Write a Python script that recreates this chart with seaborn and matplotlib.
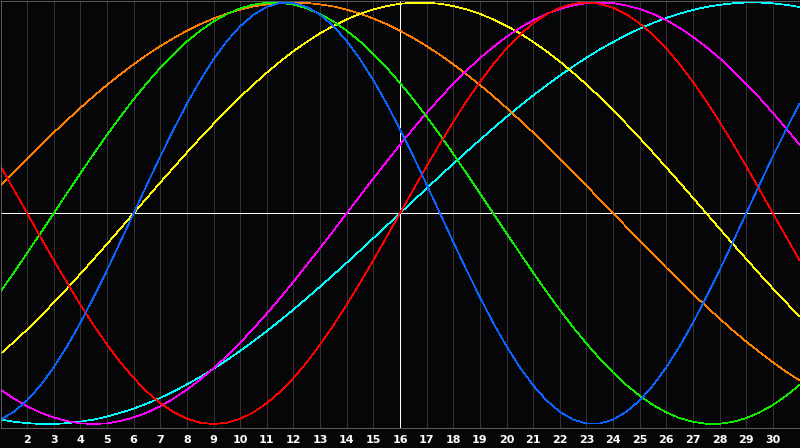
import numpy as np
import pandas as pd
import seaborn as sns
import matplotlib
matplotlib.use("Agg")
import matplotlib.pyplot as plt

# day axis, half-day samples from day 1 to day 31 (today = 16)
days = np.arange(1, 31.5, 0.5)
tick_days = list(range(2, 31))
today = 16

physical = [-.979, -.942, -.888, -.817, -.731, -.631, -.520, -.398, -.270, -.136, .000, .136, .270, .398, .520,
            .631, .731, .817, .888, .942, .979, .998, .998, .979, .942, .888, .817, .731, .631, .520, .398,
            .270, .136, .000, -.136, -.270, -.398, -.520, -.631, -.731, -.817, -.888, -.942, -.979, -.998,
            -.998, -.979, -.942, -.888, -.817, -.731, -.631, -.520, -.398, -.270, -.136, .000, .136, .270,
            .398, .520]
emotional = [.223, .112, -.000, -.112, -.223, -.330, -.434, -.532, -.623, -.707, -.782, -.847, -.901, -.944,
             -.975, -.994, -1.000, -.994, -.975, -.944, -.901, -.847, -.782, -.707, -.623, -.532, -.434,
             -.330, -.223, -.112, .000, .112, .223, .330, .434, .532, .623, .707, .782, .847, .901, .944, .975,
             .994, 1.000, .994, .975, .944, .901, .847, .782, .707, .623, .532, .434, .330, .223, .112, .000,
             -.112, -.223]
intellectual = [-.372, -.282, -.189, -.095, .000, .095, .189, .282, .372, .458, .541, .618, .690, .756, .815,
                .866, .910, .945, .972, .990, .999, .999, .990, .972, .945, .910, .866, .815, .756, .690, .618,
                .541, .458, .372, .282, .189, .095, .000, -.095, -.189, -.282, -.372, -.458, -.541, -.618,
                -.690, -.756, -.815, -.866, -.910, -.945, -.972, -.990, -.999, -.999, -.990, -.972, -.945,
                -.910, -.866, -.815]
intuitive = [-.837, -.879, -.916, -.946, -.969, -.986, -.997, -1.000, -.997, -.986, -.969, -.946, -.916, -.879,
             -.837, -.789, -.736, -.677, -.614, -.547, -.476, -.402, -.325, -.245, -.165, -.083, .000, .083,
             .165, .245, .325, .402, .476, .547, .614, .677, .736, .789, .837, .879, .916, .946, .969, .986,
             .997, 1.000, .997, .986, .969, .946, .916, .879, .837, .789, .736, .677, .614, .547, .476, .402,
             .325]
aesthetic = [-.667, -.611, -.552, -.489, -.424, -.357, -.288, -.217, -.146, -.073, .000, .073, .146, .217, .288,
             .357, .424, .489, .552, .611, .667, .720, .769, .813, .854, .889, .920, .946, .967, .983, .994,
             .999, .999, .994, .983, .967, .946, .920, .889, .854, .813, .769, .720, .667, .611, .552, .489,
             .424, .357, .288, .217, .146, .073, .000, -.073, -.146, -.217, -.288, -.357, -.424, -.489]
awareness = [.131, .195, .259, .321, .383, .442, .500, .556, .609, .659, .707, .752, .793, .831, .866, .897,
             .924, .947, .966, .981, .991, .998, 1.000, .998, .991, .981, .966, .947, .924, .897, .866, .831,
             .793, .752, .707, .659, .609, .556, .500, .442, .383, .321, .259, .195, .131, .065, .000, -.065,
             -.131, -.195, -.259, -.321, -.383, -.442, -.500, -.556, -.609, -.659, -.707, -.752, -.793]
spiritual = [-.979, -.989, -.996, -1.000, -1.000, -.996, -.989, -.979, -.965, -.947, -.927, -.903, -.876, -.846,
             -.812, -.777, -.738, -.697, -.653, -.607, -.559, -.509, -.457, -.403, -.348, -.292, -.235, -.177,
             -.118, -.059, .000, .059, .118, .177, .235, .292, .348, .403, .457, .509, .559, .607, .653, .697,
             .738, .777, .812, .846, .876, .903, .927, .947, .965, .979, .989, .996, 1.000, 1.000, .996, .989,
             .979]

cycles = {"spiritual": spiritual, "awareness": awareness, "aesthetic": aesthetic, "intuitive": intuitive,
          "intellectual": intellectual, "emotional": emotional, "physical": physical}
palette = {"physical": "#0a64ff", "emotional": "#ff0000", "intellectual": "#11ee00", "intuitive": "#ff00ff",
           "aesthetic": "#ffff00", "awareness": "#ff7f00", "spiritual": "#00ffff"}

df = pd.concat([pd.DataFrame({"cycle": k, "day": days, "value": v}) for k, v in cycles.items()],
               ignore_index=True)

sns.set_style("dark")
bg = "#060608"
fig = plt.figure(figsize=(8, 4.48), dpi=100, facecolor=bg)
ax = fig.add_axes([0.5 / 800, 20 / 448, 799 / 800, 427.5 / 448])
ax.set_facecolor(bg)

for d in tick_days:
    ax.axvline(d, color="white" if d == today else "#333333", lw=0.5, antialiased=False, zorder=1)
ax.axhline(0, color="white", lw=0.5, antialiased=False, zorder=1)

sns.lineplot(data=df, x="day", y="value", hue="cycle", hue_order=list(cycles), palette=palette,
             legend=False, lw=0.5, antialiased=False, ax=ax, zorder=2)

ax.set_xlim(1, 31)
ax.set_ylim(-1.019, 1.0095)
ax.set_xticks(tick_days)
ax.set_xticklabels([str(d) for d in tick_days], color="white", fontweight="bold", fontsize=8)
ax.set_yticks([])
ax.tick_params(axis="x", length=0, pad=5)
ax.set_xlabel("")
ax.set_ylabel("")
ax.grid(False)
for s in ax.spines.values():
    s.set_color("#808080")
    s.set_linewidth(0.5)

fig.savefig("out.png", facecolor=fig.get_facecolor())
